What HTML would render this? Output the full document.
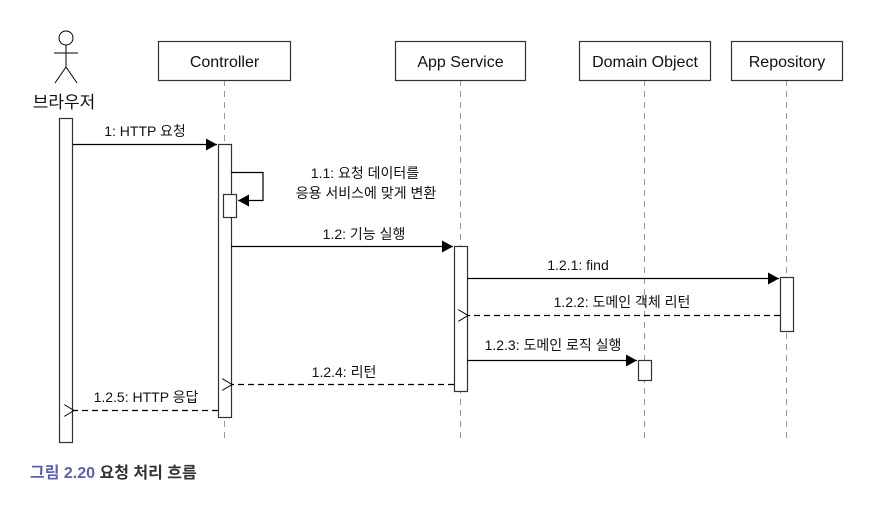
<!DOCTYPE html>
<html><head><meta charset="utf-8"><style>
body{margin:0;background:#fff;}
svg text{font-family:"Liberation Sans","Noto Sans CJK KR",sans-serif;fill:#111;}
</style></head><body>
<svg width="890" height="510" xmlns="http://www.w3.org/2000/svg">
<defs>
<marker id="f" markerWidth="12" markerHeight="12" refX="11" refY="6" orient="auto" markerUnits="userSpaceOnUse"><path d="M0,0 L11,6 L0,12 z" fill="#000"/></marker>
<marker id="o" markerWidth="12" markerHeight="12" refX="1" refY="6" orient="auto" markerUnits="userSpaceOnUse"><path d="M11,0 L1,6 L11,12" fill="none" stroke="#000" stroke-width="1"/></marker>
</defs>
<g stroke="#999" stroke-dasharray="6,5" stroke-width="1">
<line x1="224.5" y1="80" x2="224.5" y2="443"/>
<line x1="460.5" y1="80" x2="460.5" y2="443"/>
<line x1="644.5" y1="80" x2="644.5" y2="443"/>
<line x1="786.5" y1="80" x2="786.5" y2="443"/>
</g>
<g fill="#fff" stroke="#333" stroke-width="1.2">
<rect x="158.5" y="41.5" width="132" height="39"/>
<rect x="395.5" y="41.5" width="130" height="39"/>
<rect x="579.5" y="41.5" width="131" height="39"/>
<rect x="731.5" y="41.5" width="111" height="39"/>
</g>
<g font-size="16" text-anchor="middle">
<text x="224.5" y="67">Controller</text>
<text x="460.5" y="67">App Service</text>
<text x="645" y="67">Domain Object</text>
<text x="787" y="67">Repository</text>
</g>
<g stroke="#000" stroke-width="1" fill="none">
<circle cx="66" cy="38" r="7"/>
<line x1="66" y1="45" x2="66" y2="67"/>
<line x1="54" y1="53" x2="78" y2="53"/>
<line x1="66" y1="67" x2="55" y2="83"/>
<line x1="66" y1="67" x2="77" y2="83"/>
</g>
<text x="64" y="108" font-size="17" text-anchor="middle">브라우저</text>
<g fill="#fff" stroke="#333" stroke-width="1.2">
<rect x="59.5" y="118.5" width="13" height="324"/>
<rect x="218.5" y="144.5" width="13" height="273"/>
<rect x="223.5" y="194.5" width="13" height="23"/>
<rect x="454.5" y="246.5" width="13" height="145"/>
<rect x="780.5" y="277.5" width="13" height="54"/>
<rect x="638.5" y="360.5" width="13" height="20"/>
</g>
<g stroke="#000" stroke-width="1.2" fill="none">
<line x1="73" y1="144.5" x2="217" y2="144.5" marker-end="url(#f)"/>
<polyline points="231,172.5 263,172.5 263,200.5 238,200.5" marker-end="url(#f)"/>
<line x1="231" y1="246.5" x2="453" y2="246.5" marker-end="url(#f)"/>
<line x1="467" y1="278.5" x2="779" y2="278.5" marker-end="url(#f)"/>
<line x1="467" y1="360.5" x2="637" y2="360.5" marker-end="url(#f)"/>
<g stroke-dasharray="6,4">
<line x1="780" y1="315.5" x2="468" y2="315.5" marker-end="url(#o)"/>
<line x1="454" y1="384.5" x2="232" y2="384.5" marker-end="url(#o)"/>
<line x1="218" y1="410.5" x2="74" y2="410.5" marker-end="url(#o)"/>
</g>
</g>
<g font-size="14" text-anchor="middle">
<text x="145" y="136">1: HTTP 요청</text>
<text x="365" y="178">1.1: 요청 데이터를</text>
<text x="366" y="198">응용 서비스에 맞게 변환</text>
<text x="364" y="239">1.2: 기능 실행</text>
<text x="578" y="270">1.2.1: find</text>
<text x="622" y="307">1.2.2: 도메인 객체 리턴</text>
<text x="553" y="350">1.2.3: 도메인 로직 실행</text>
<text x="344" y="377">1.2.4: 리턴</text>
<text x="146" y="402">1.2.5: HTTP 응답</text>
</g>
<text x="30" y="478" font-size="16" font-weight="bold"><tspan fill="#5b5fb0">그림 2.20</tspan><tspan fill="#333"> 요청 처리 흐름</tspan></text>
</svg>
</body></html>
